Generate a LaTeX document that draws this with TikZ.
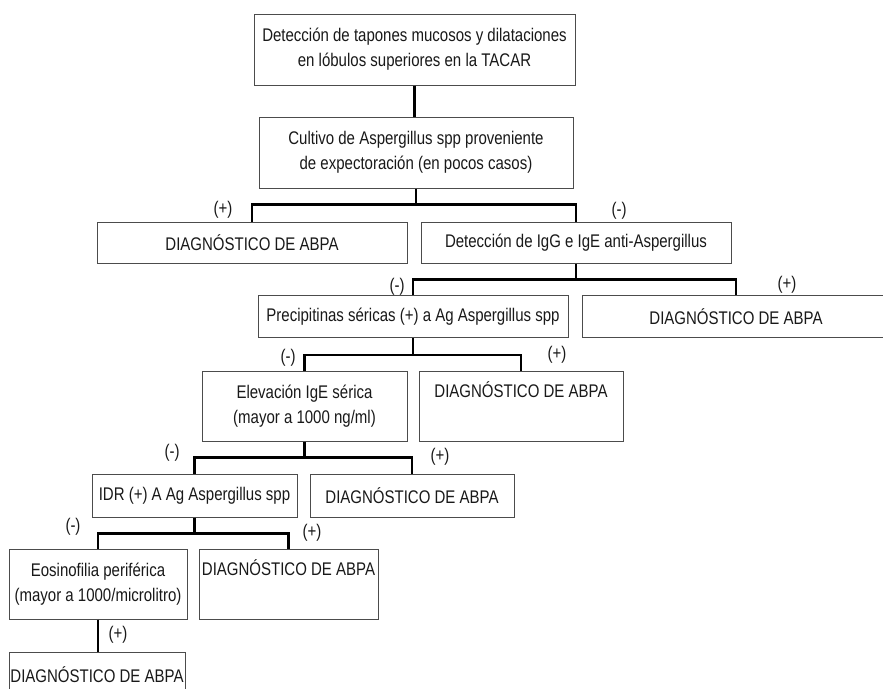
\documentclass[tikz,border=0pt]{standalone}
\usepackage{fontspec}
\setmainfont{Liberation Sans}[FakeStretch=0.82]
\usetikzlibrary{calc}

\begin{document}
\begin{tikzpicture}[
    x=1pt, y=-1pt,
    caja/.style={draw=black!70, line width=1pt, inner sep=0pt, align=center, text=black!90,
      font=\fontsize{18.3}{25}\selectfont},
    rama/.style={line width=2.6pt, line join=miter},
    signo/.style={inner sep=0pt, text=black!90, font=\fontsize{18.3}{25}\selectfont}
  ]
    \useasboundingbox (0,0) rectangle (883,688);
    \clip (0,0) rectangle (883,688);
    \fill[white] (0,0) rectangle (883,688);

    \node[caja, minimum width=321, minimum height=71] (tacar) at (414.5,49.5)
      {Detección de tapones mucosos y dilataciones\\en lóbulos superiores en la TACAR};
    \node[caja, minimum width=314, minimum height=71] (cultivo) at (416,152.5)
      {Cultivo de Aspergillus spp proveniente\\de expectoración (en pocos casos)};

    \node[caja, minimum width=310, minimum height=41] (dxa) at (252,242.5) {DIAGNÓSTICO DE ABPA};
    \node[caja, minimum width=310, minimum height=41] (igg) at (576,242.5)
      {Detección de IgG e IgE anti-Aspergillus};

    \node[caja, minimum width=310, minimum height=42] (precip) at (413,316.5)
      {Precipitinas séricas (+) a Ag Aspergillus spp};
    \node[caja, minimum width=308, minimum height=42] (dxb) at (736,316.5) {DIAGNÓSTICO DE ABPA};

    \node[caja, minimum width=205, minimum height=70] (ige) at (304.5,406)
      {Elevación IgE sérica\\(mayor a 1000 ng/ml)};
    \node[caja, minimum width=204, minimum height=70] (dxc) at (521,406)
      {DIAGNÓSTICO DE ABPA\\\strut};

    \node[caja, minimum width=205, minimum height=43] (idr) at (194.5,495.5)
      {IDR (+) A Ag Aspergillus spp};
    \node[caja, minimum width=204, minimum height=43] (dxd) at (412,495.5) {DIAGNÓSTICO DE ABPA};

    \node[caja, minimum width=178, minimum height=70] (eos) at (98,584)
      {Eosinofilia periférica\\(mayor a 1000/microlitro)};
    \node[caja, minimum width=179, minimum height=70] (dxe) at (288.5,584)
      {DIAGNÓSTICO DE ABPA\\\strut};

    \node[caja, minimum width=176, minimum height=46] (dxf) at (97,675) {DIAGNÓSTICO DE ABPA};

    % ramas
    \draw[rama] (tacar.south) -- (tacar.south |- cultivo.north);

    \coordinate (fa) at ($(cultivo.south)+(0,16)$);
    \draw[rama] (cultivo.south) -- (fa);
    \draw[rama] (dxa.north) |- (fa) -| (igg.north);

    \coordinate (fb) at ($(igg.south)+(0,16)$);
    \draw[rama] (igg.south) -- (fb);
    \draw[rama] (precip.north) |- (fb) -| (dxb.north);

    \coordinate (fc) at ($(precip.south)+(0,17)$);
    \draw[rama] (precip.south) -- (fc);
    \draw[rama] (ige.north) |- (fc) -| (dxc.north);

    \coordinate (fd) at ($(ige.south)+(0,16)$);
    \draw[rama] (ige.south) -- (fd);
    \draw[rama] (idr.north) |- (fd) -| (dxd.north);

    \coordinate (fe) at ($(idr.south)+(0,16)$);
    \draw[rama] (idr.south) -- (fe);
    \draw[rama] (eos.north) |- (fe) -| (dxe.north);

    \draw[rama] (eos.south) -- (eos.south |- dxf.north);

    % signos
    \node[signo] (sa) at (223,210) {(+)};
    \node[signo] (sb) at (619,211) {(-)};
    \node[signo] (sc) at (397,287) {(-)};
    \node[signo] (sd) at (787,285) {(+)};
    \node[signo] (se) at (288,358) {(-)};
    \node[signo] (sf) at (557,355) {(+)};
    \node[signo] (sg) at (172,453) {(-)};
    \node[signo] (sh) at (440,457) {(+)};
    \node[signo] (si) at (73,527) {(-)};
    \node[signo] (sj) at (312,533) {(+)};
    \node[signo] (sk) at (118,635) {(+)};
  \end{tikzpicture}
\end{document}
